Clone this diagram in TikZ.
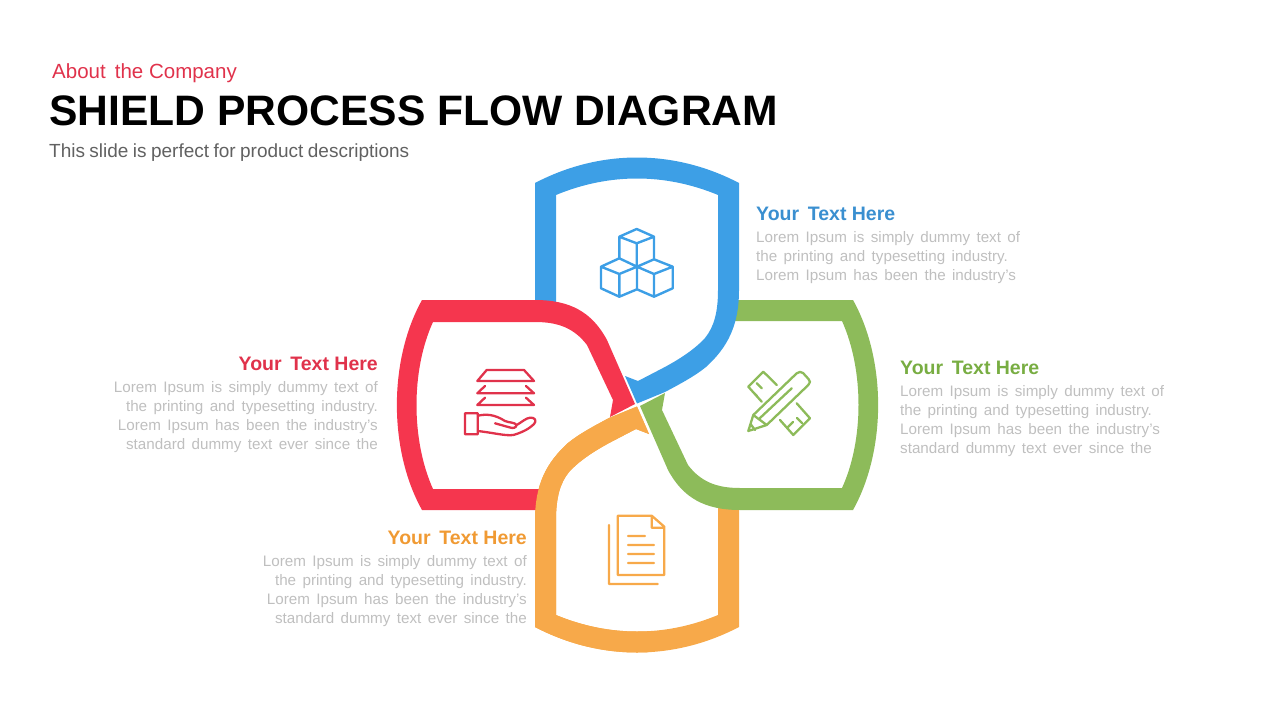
\documentclass[tikz,border=0pt]{standalone}
\usepackage{fontspec}
\setmainfont{Liberation Sans}
\newcommand\mybodyfont{\fontsize{15.2}{19}\selectfont\spaceskip 6.4pt\relax}
\newcommand\mysubfont{\fontsize{19}{22}\selectfont\spaceskip 4.4pt\relax}
\definecolor{cblue}{HTML}{3D9FE6}
\definecolor{cred}{HTML}{F5364E}
\definecolor{cgreen}{HTML}{8DBB5A}
\definecolor{corange}{HTML}{F7A94A}
\definecolor{tblue}{HTML}{3A8FD0}
\definecolor{tred}{HTML}{E0324B}
\definecolor{tgreen}{HTML}{78AD42}
\definecolor{torange}{HTML}{F09A33}
\definecolor{tbody}{HTML}{BFBFBF}
\tikzset{
  x=1pt,y=-1pt,
  ring/.style={fill=#1,draw=none,even odd rule},
  icon/.style={draw=#1,line width=1.8pt,line join=round,line cap=round,fill=none},
  bodyleft/.style={anchor=base west,inner sep=0pt,text=tbody,font=\mybodyfont},
  bodyright/.style={anchor=base east,inner sep=0pt,text=tbody,font=\mybodyfont},
  headleft/.style={anchor=base west,inner sep=0pt,font=\fontsize{19.5}{22}\bfseries},
  headright/.style={anchor=base east,inner sep=0pt,font=\fontsize{19.5}{22}\bfseries}
}
\def\blueshape{
  (535,183) .. controls (600,149) and (674,149) .. (739,183)
  -- (739,290) .. controls (739,325) and (728,347) .. (706,367)
  .. controls (695,376) and (680,384) .. (665,392)
  -- (637,403.5) -- (625,376) -- (638,381) -- (663,368)
  .. controls (680,359) and (695,349) .. (705,338)
  .. controls (714,327) and (718,312) .. (718,290)
  -- (718,195) .. controls (665,173) and (609,173) .. (556,195)
  -- (556,310) -- (535,310) -- cycle
}
\def\redshape{
  (422,300) -- (535,300) .. controls (570,300) and (592,312) .. (607,340)
  -- (635,404) -- (610,417) -- (613,400) -- (587,345)
  .. controls (574,328) and (558,322) .. (535,322)
  -- (433,322) .. controls (411,370) and (411,440) .. (433,489)
  -- (545,489) -- (545,510) -- (422,510)
  .. controls (388.5,450) and (388.5,360) .. (422,300) -- cycle
}
\begin{document}
\begin{tikzpicture}
\useasboundingbox (0,0) rectangle (1280,720);
% shields
\begin{scope}[rotate around={180:(637,405)}]
  \fill[ring=corange] \blueshape;
\end{scope}
\begin{scope}[rotate around={180:(637.5,405)}]
  \fill[ring=cgreen] \redshape;
\end{scope}
\fill[ring=cblue] \blueshape;
\fill[ring=cred] \redshape;
\begin{scope}
  \clip (500,395) rectangle (649,660);
  \begin{scope}[rotate around={180:(637,405)}]
    \fill[ring=corange] \blueshape;
  \end{scope}
\end{scope}
% texts
\node[anchor=base west,inner sep=0pt,text=tred,font=\fontsize{20.5}{22}\selectfont] (about) at (52,78) {About\, the Company};
\node[anchor=base west,inner sep=0pt,font=\fontsize{42.6}{48}\bfseries] (title) at (49,125) {SHIELD PROCESS FLOW DIAGRAM};
\node[anchor=base west,inner sep=0pt,text=black!62,font=\mysubfont] (sub) at (49,157) {This slide is perfect for product descriptions};

\node[headleft,text=tblue] (h1) at (756,220.5) {Your\, Text Here};
\node[bodyleft] (b11) at (756,242) {Lorem Ipsum is simply dummy text of};
\node[bodyleft] (b12) at (756,261) {the printing and typesetting industry.};
\node[bodyleft] (b13) at (756,280) {Lorem Ipsum has been the industry's};

\node[headleft,text=tgreen] (h2) at (900,374.5) {Your\, Text Here};
\node[bodyleft] (b21) at (900,396) {Lorem Ipsum is simply dummy text of};
\node[bodyleft] (b22) at (900,415) {the printing and typesetting industry.};
\node[bodyleft] (b23) at (900,434) {Lorem Ipsum has been the industry's};
\node[bodyleft] (b24) at (900,453) {standard dummy text ever since the};

\node[headright,text=tred] (h3) at (378,370.5) {Your\, Text Here};
\node[bodyright] (b31) at (378,392) {Lorem Ipsum is simply dummy text of};
\node[bodyright] (b32) at (378,411) {the printing and typesetting industry.};
\node[bodyright] (b33) at (378,430) {Lorem Ipsum has been the industry's};
\node[bodyright] (b34) at (378,449) {standard dummy text ever since the};

\node[headright,text=torange] (h4) at (527,544.5) {Your\, Text Here};
\node[bodyright] (b41) at (527,566) {Lorem Ipsum is simply dummy text of};
\node[bodyright] (b42) at (527,585) {the printing and typesetting industry.};
\node[bodyright] (b43) at (527,604) {Lorem Ipsum has been the industry's};
\node[bodyright] (b44) at (527,623) {standard dummy text ever since the};

% cubes icon
\draw[icon=cblue,line width=2.4pt]
  (636.7,229) -- (654,236.7) -- (636.7,243.3) -- (619.3,236.7) -- cycle
  (619.3,236.7) -- (619.3,258.3) (654,236.7) -- (654,259.3) (636.7,243.3) -- (636.7,266.7)
  (619.3,258.3) -- (637,266.7) -- (619.3,274) -- (601,266.7) -- cycle
  (601,266.7) -- (601,288.3) -- (619.3,296.7) -- (637,289.3) -- (637,266.7) (619.3,274) -- (619.3,296.7)
  (654,259.3) -- (672.7,266.7) -- (654,274) -- (637,266.7) -- cycle
  (637,289.3) -- (654,296.7) -- (672.7,288.3) -- (672.7,266.7) (654,274) -- (654,296.7);
% hand icon
\draw[icon=tred,line width=2.3pt]
  (486.7,370) -- (524,370) -- (534,381) -- (477.3,381) -- cycle
  (485,386) -- (477.3,393.3) -- (534,393.3) -- (526,386)
  (485,397.7) -- (477.3,405) -- (534,405) -- (526,397.7)
  (465,413.3) rectangle (477.7,434.3)
  (477.7,415.7) .. controls (486,414) and (494,414) .. (505,421) .. controls (510,423) and (514,422) .. (516.7,425)
  .. controls (522,422) and (526,418) .. (530,417.7) .. controls (535,417) and (537,421) .. (534,424)
  .. controls (528,430) and (520,433) .. (513.3,435) .. controls (505,436) and (495,433) .. (477.7,431)
  (495,423.3) -- (510,427.5) .. controls (513,428.5) and (516,428) .. (516.7,425);
% pencil and ruler icon
\draw[icon=cgreen,line width=2.3pt]
  (796.7,373.3) .. controls (799,371.5) and (801,371.5) .. (803,373) -- (808.5,379) .. controls (810.5,381) and (810.5,383) .. (808.3,385)
  -- (766.7,425) -- (748.3,431) -- (753.3,415) -- cycle
  (791.7,388.3) -- (760,418)
  (753.3,415) -- (766.7,425)
  (750.5,424) -- (755,430)
  (776.7,385) -- (763.3,371.7) -- (748.3,386.7) -- (761.7,401.7)
  (756.7,383.3) -- (761.7,388.3) (753,392) -- (757,396)
  (796.7,403.3) -- (810,418.3) -- (793.3,435) -- (780,420)
  (788,427) -- (793,422) (797,418) -- (802,423);
% document icon
\draw[icon=corange,line width=2.3pt]
  (617.7,515.7) -- (651.7,515.7) -- (664.3,526.7) -- (664.3,575) -- (617.7,575) -- cycle
  (651.7,515.7) -- (651.7,527.7) -- (664.3,527.7)
  (609,525) -- (609,584) -- (657.7,584)
  (628,536) -- (645,536) (628,545) -- (654,545) (628,554) -- (654,554) (628,563) -- (654,563);
\end{tikzpicture}
\end{document}
